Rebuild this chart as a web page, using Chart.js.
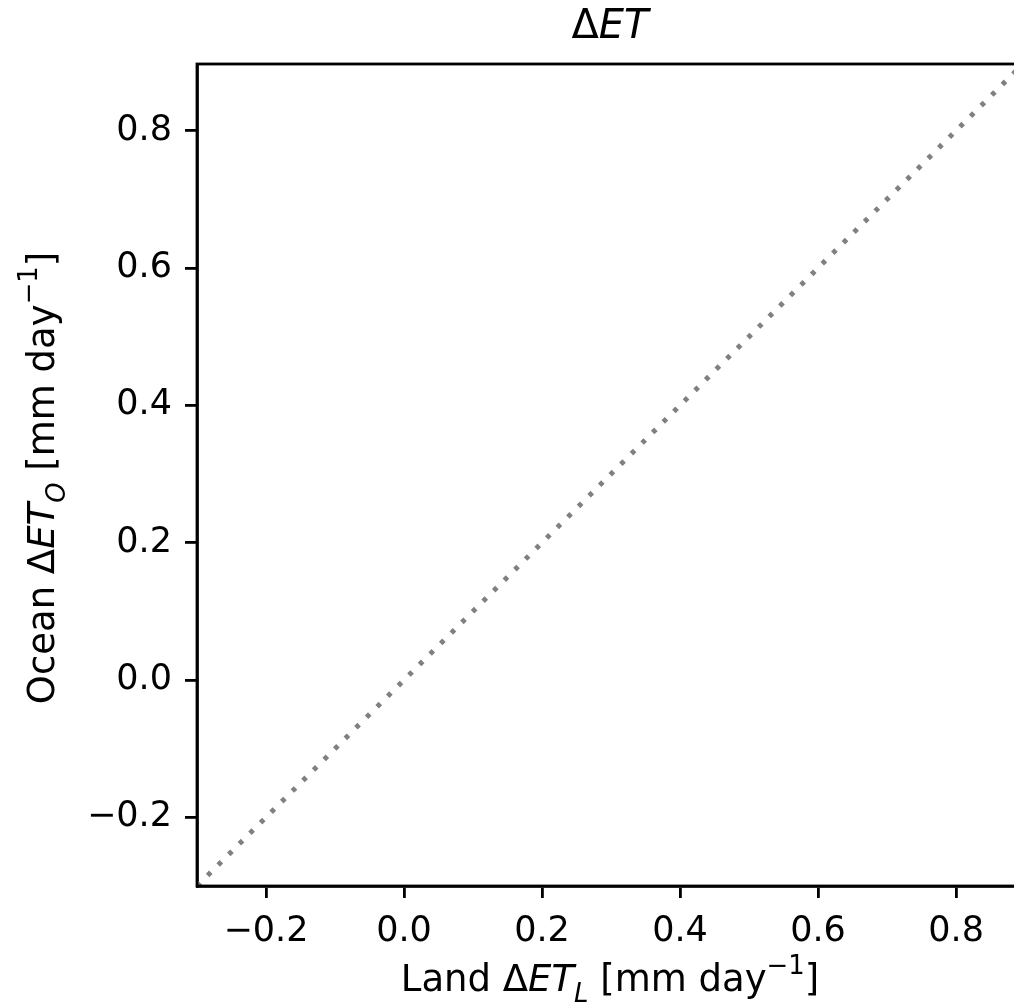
<!DOCTYPE html>
<html>
<head>
<meta charset="utf-8">
<script src="https://cdn.jsdelivr.net/npm/chart.js@4.4.1/dist/chart.umd.min.js"></script>
<style>
  html, body { margin: 0; padding: 0; overflow: hidden; background: #ffffff; width: 1014px; height: 1006px; }
  #wrap { width: 1023px; height: 1006px; }
  canvas { display: block; }
</style>
</head>
<body>
<div id="wrap"><canvas id="c" width="1023" height="1006"></canvas></div>
<script>
// ---- data ----
const lineX = [-0.3, 0.897];          // 1:1 reference line, x values
const lineY = [-0.3, 0.897];          // 1:1 reference line, y values
const axisMin = -0.3;
const axisMax = 0.897;
const xTicks = [-0.2, 0.0, 0.2, 0.4, 0.6, 0.8];
const yTicks = [-0.2, 0.0, 0.2, 0.4, 0.6, 0.8];
// rich text pieces: [text, kind]  kind: n = normal, i = italic, sub = italic subscript, sup = superscript
const titleParts  = [['Δ', 'n'], ['ET', 'i']];
const xLabelParts = [['Land ', 'n'], ['Δ', 'n'], ['ET', 'i'], ['L', 'sub'], [' [mm day', 'n'], ['−1', 'sup'], [']', 'n']];
const yLabelParts = [['Ocean ', 'n'], ['Δ', 'n'], ['ET', 'i'], ['O', 'sub'], [' [mm day', 'n'], ['−1', 'sup'], [']', 'n']];

const FAMILY = '"DejaVu Sans", "Liberation Sans", sans-serif';

function fmtTick(v) {
  const n = Number(v);
  const s = Math.abs(n).toFixed(1);
  return n < -1e-9 ? '\u2212' + s : s;
}

function drawRich(ctx, parts, cx, cy, size, rotate) {
  const items = parts.map(([text, kind]) => {
    const small = (kind === 'sub' || kind === 'sup');
    const s = small ? size * 0.7 : size;
    const italic = (kind === 'i' || kind === 'sub');
    const font = (italic ? 'oblique ' : '') + s + 'px ' + FAMILY;
    ctx.font = font;
    const w = ctx.measureText(text).width;
    const dy = kind === 'sub' ? size * 0.30 : (kind === 'sup' ? -size * 0.45 : 0);
    return { text, font, w, dy };
  });
  const total = items.reduce((a, it) => a + it.w, 0);
  ctx.save();
  ctx.translate(cx, cy);
  if (rotate) ctx.rotate(-Math.PI / 2);
  ctx.fillStyle = '#000000';
  ctx.textAlign = 'left';
  ctx.textBaseline = 'alphabetic';
  let x = -total / 2;
  items.forEach(it => {
    ctx.font = it.font;
    ctx.fillText(it.text, x, it.dy);
    x += it.w;
  });
  ctx.restore();
}

const framePlugin = {
  id: 'frame',
  afterDraw(chart) {
    const { ctx, chartArea: a } = chart;
    ctx.save();
    ctx.strokeStyle = '#000000';
    ctx.lineWidth = 2.8;
    ctx.strokeRect(a.left, a.top, a.right - a.left, a.bottom - a.top);
    ctx.restore();
  }
};

const labelsPlugin = {
  id: 'richLabels',
  afterDraw(chart) {
    const { ctx, chartArea: a } = chart;
    const cx = (a.left + a.right) / 2;
    const cy = (a.top + a.bottom) / 2;
    drawRich(ctx, titleParts, cx, 38, 40, false);
    drawRich(ctx, xLabelParts, cx, 991, 37, false);
    drawRich(ctx, yLabelParts, 54, cy + 3, 37, true);
  }
};

const axisCommon = {
  type: 'linear',
  min: axisMin,
  max: axisMax,
  grid: { drawOnChartArea: false, drawTicks: true, tickLength: 12, color: '#000000', lineWidth: 2.8 },
  border: { display: true, color: '#000000', width: 2.8 },
};

new Chart(document.getElementById('c').getContext('2d'), {
  type: 'scatter',
  data: {
    datasets: [{
      data: lineX.map((x, i) => ({ x: x, y: lineY[i] })),
      showLine: true,
      borderColor: '#808080',
      borderWidth: 5,
      borderDash: [4.5, 10.45],
      borderCapStyle: 'butt',
      pointRadius: 0,
      pointHoverRadius: 0,
      fill: false,
      tension: 0,
      clip: 0
    }]
  },
  options: {
    responsive: false,
    animation: false,
    devicePixelRatio: 1,
    events: [],
    layout: { padding: { top: 64, left: 0, right: 0, bottom: 0 } },
    plugins: { legend: { display: false }, tooltip: { enabled: false }, title: { display: false } },
    scales: {
      x: Object.assign({}, axisCommon, {
        position: 'bottom',
        afterBuildTicks: s => { s.ticks = xTicks.map(v => ({ value: v })); },
        afterFit: s => { s.height = 120; },
        ticks: { color: '#000000', font: { family: FAMILY, size: 35 }, padding: 13, maxRotation: 0, minRotation: 0, autoSkip: false, callback: fmtTick }
      }),
      y: Object.assign({}, axisCommon, {
        position: 'left',
        afterBuildTicks: s => { s.ticks = yTicks.map(v => ({ value: v })); },
        afterFit: s => { s.width = 197; },
        ticks: { color: '#000000', font: { family: FAMILY, size: 35 }, padding: 13, autoSkip: false, callback: fmtTick }
      })
    }
  },
  plugins: [framePlugin, labelsPlugin]
});
</script>
</body>
</html>
